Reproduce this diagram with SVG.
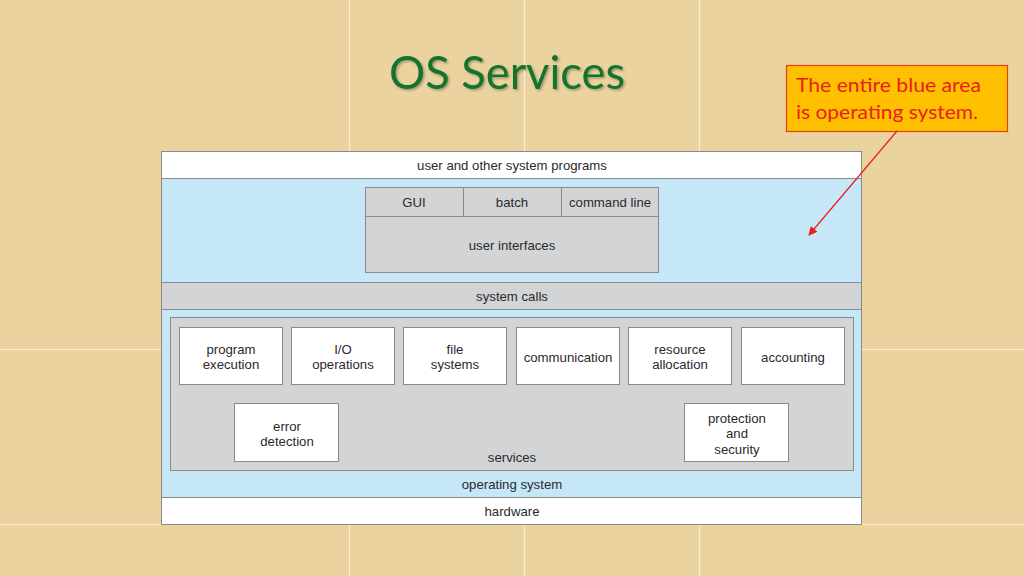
<svg xmlns="http://www.w3.org/2000/svg" width="1024" height="576" viewBox="0 0 1024 576">
<defs>
<style>
.t{font-family:"Liberation Sans",Arial,sans-serif;font-size:13.2px;fill:#2a2a2a;text-anchor:middle}
.box{fill:#ffffff;stroke:#8a8a8a;stroke-width:1}
.gray{fill:#d2d4d6;stroke:#8a8a8a;stroke-width:1}
.tile{stroke:#fbf0d0;stroke-width:1.2}
</style>
<marker id="ah" viewBox="0 0 10 10" refX="9" refY="5" markerWidth="9" markerHeight="9" orient="auto" markerUnits="userSpaceOnUse">
<path d="M0,0 L10,5 L0,10 z" fill="#e8201c"/>
</marker>
<filter id="sh" x="-5%" y="-5%" width="110%" height="120%">
<feDropShadow dx="1.5" dy="1.5" stdDeviation="1" flood-color="#000" flood-opacity="0.3"/>
</filter>
</defs>
<rect x="0" y="0" width="1024" height="576" fill="#ebd3a0"/>
<g id="tiles">
<line class="tile" x1="349.5" y1="0" x2="349.5" y2="576"/>
<line class="tile" x1="524.5" y1="0" x2="524.5" y2="576"/>
<line class="tile" x1="699.5" y1="0" x2="699.5" y2="576"/>
<line class="tile" x1="0" y1="349.5" x2="1024" y2="349.5"/>
<line class="tile" x1="0" y1="524.5" x2="1024" y2="524.5"/>
</g>
<text id="title" x="507" y="89" font-family="Lato,'Open Sans',sans-serif" font-size="46" fill="#17732f" text-anchor="middle" textLength="236" lengthAdjust="spacingAndGlyphs" filter="url(#sh)">OS Services</text>
<g id="diagram">
<rect x="161.5" y="151.5" width="700" height="373" fill="#c5e7f8" stroke="#8a8a8a"/>
<g id="user-programs">
<rect x="161.5" y="151.5" width="700" height="27" fill="#ffffff" stroke="#8a8a8a"/>
<text class="t" x="512" y="170">user and other system programs</text>
</g>
<g id="user-interfaces">
<rect class="gray" x="365.5" y="187.5" width="293" height="85"/>
<line x1="365.5" y1="216.5" x2="658.5" y2="216.5" stroke="#8a8a8a"/>
<line x1="463.5" y1="187.5" x2="463.5" y2="216.5" stroke="#8a8a8a"/>
<line x1="561.5" y1="187.5" x2="561.5" y2="216.5" stroke="#8a8a8a"/>
<text class="t" x="414" y="207">GUI</text>
<text class="t" x="512" y="207">batch</text>
<text class="t" x="610" y="207">command line</text>
<text class="t" x="512" y="250">user interfaces</text>
</g>
<g id="system-calls">
<rect class="gray" x="161.5" y="282.5" width="700" height="27"/>
<text class="t" x="512" y="301">system calls</text>
</g>
<g id="services">
<rect class="gray" x="170.5" y="317.5" width="683" height="153"/>
<text class="t" x="512" y="462">services</text>
</g>
<g id="program-execution"><rect class="box" x="179.5" y="327.5" width="103" height="57"/><text class="t" x="231" y="354">program</text><text class="t" x="231" y="369">execution</text></g>
<g id="io-operations"><rect class="box" x="291.5" y="327.5" width="103" height="57"/><text class="t" x="343" y="354">I/O</text><text class="t" x="343" y="369">operations</text></g>
<g id="file-systems"><rect class="box" x="403.5" y="327.5" width="103" height="57"/><text class="t" x="455" y="354">file</text><text class="t" x="455" y="369">systems</text></g>
<g id="communication"><rect class="box" x="516.5" y="327.5" width="103" height="57"/><text class="t" x="568" y="362">communication</text></g>
<g id="resource-allocation"><rect class="box" x="628.5" y="327.5" width="103" height="57"/><text class="t" x="680" y="354">resource</text><text class="t" x="680" y="369">allocation</text></g>
<g id="accounting"><rect class="box" x="741.5" y="327.5" width="103" height="57"/><text class="t" x="793" y="362">accounting</text></g>
<g id="error-detection"><rect class="box" x="234.5" y="403.5" width="104" height="58"/><text class="t" x="287" y="431">error</text><text class="t" x="287" y="446">detection</text></g>
<g id="protection-security"><rect class="box" x="684.5" y="403.5" width="104" height="58"/><text class="t" x="737" y="423">protection</text><text class="t" x="737" y="438">and</text><text class="t" x="737" y="454">security</text></g>
<g id="operating-system">
<text class="t" x="512" y="489">operating system</text>
</g>
<g id="hardware">
<rect x="161.5" y="497.5" width="700" height="27" fill="#ffffff" stroke="#8a8a8a"/>
<text class="t" x="512" y="516">hardware</text>
</g>
</g>
<g id="callout">
<rect x="786.5" y="65.5" width="221" height="66" fill="#ffc000" stroke="#e8401c" stroke-width="1.2"/>
<text x="796" y="92" font-family="Lato,'Open Sans',sans-serif" font-size="19" fill="#e8201c" textLength="185" lengthAdjust="spacingAndGlyphs">The entire blue area</text>
<text x="796" y="119" font-family="Lato,'Open Sans',sans-serif" font-size="19" fill="#e8201c" textLength="182" lengthAdjust="spacingAndGlyphs">is operating system.</text>
</g>
<g id="connectors">
<line x1="897" y1="131" x2="809" y2="235" stroke="#e8201c" stroke-width="1.2" marker-end="url(#ah)"/>
</g>
</svg>
